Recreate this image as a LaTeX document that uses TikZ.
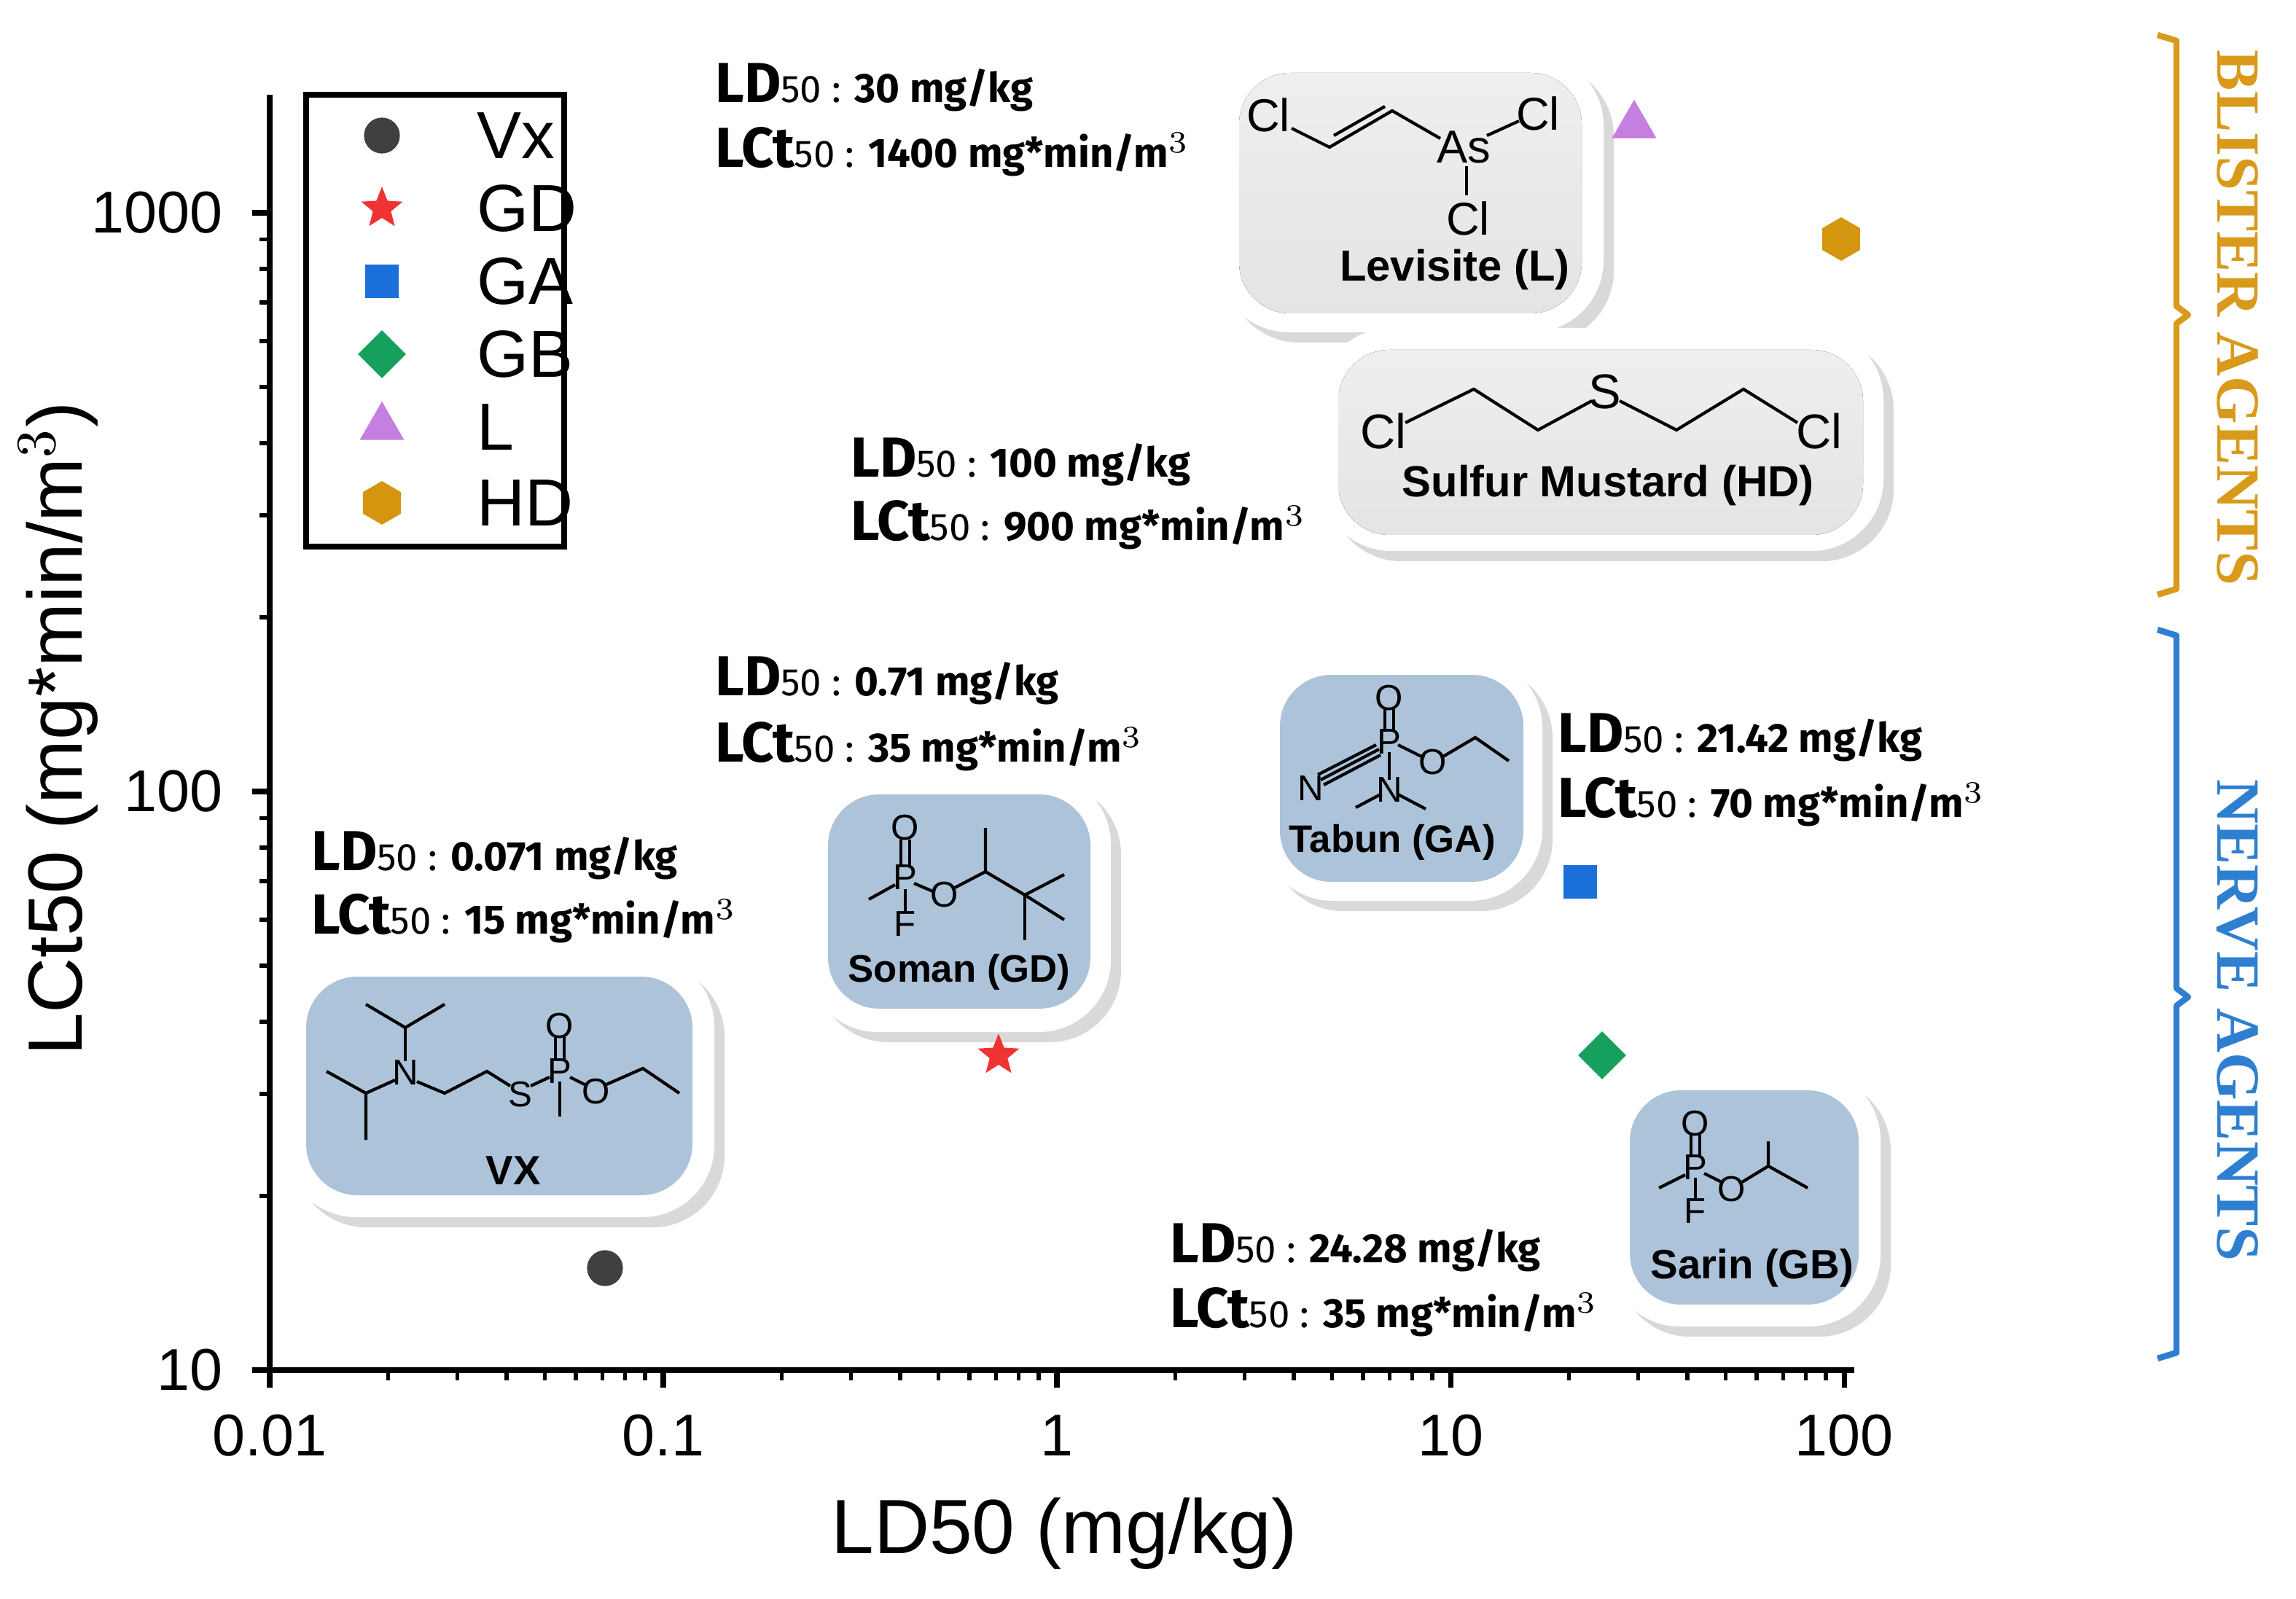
\documentclass[tikz,border=0pt]{standalone}
\usepackage{fontspec}
\setmainfont{Liberation Sans}
\newfontfamily\statf{Fira Sans}
\newfontfamily\brf{Liberation Serif}
\usetikzlibrary{shapes.geometric,shadows}
\definecolor{cVx}{HTML}{404040}
\definecolor{cGD}{HTML}{EE3333}
\definecolor{cGA}{HTML}{1A6FD8}
\definecolor{cGB}{HTML}{17A05D}
\definecolor{cL}{HTML}{C47FE0}
\definecolor{cHD}{HTML}{D4950F}
\definecolor{blist}{HTML}{D99A1C}
\definecolor{nerve}{HTML}{2F7FD0}
\definecolor{panelB}{HTML}{ADC3DA}
\definecolor{panelG}{HTML}{E4E4E4}
\tikzset{
 mk/.style={draw=none,inner sep=0pt},
 mVx/.style={mk,circle,fill=cVx,minimum size=7pt},
 mGD/.style={mk,star,star points=5,star point ratio=2.3,fill=cGD,minimum size=8.5pt},
 mGA/.style={mk,rectangle,fill=cGA,minimum size=6.5pt},
 mGB/.style={mk,diamond,fill=cGB,minimum size=9.5pt},
 mL/.style={mk,regular polygon,regular polygon sides=3,fill=cL,minimum size=10pt},
 mHD/.style={mk,regular polygon,regular polygon sides=6,fill=cHD,minimum size=8.5pt,rotate=30},
 frame/.style={draw=none,fill=white,rounded corners=14pt,drop shadow={opacity=0.3,shadow xshift=2pt,shadow yshift=-2pt}},
 bond/.style={line width=0.6pt},
 atm/.style={font=\fontsize{7}{7}\selectfont,inner sep=0.5pt,fill=none},
 mlab/.style={font=\fontsize{7.5}{8}\selectfont\bfseries},
 stat/.style={anchor=west,font=\statf\bfseries,inner sep=0},
 tick/.style={font=\fontsize{11.5}{12}\selectfont},
 leg/.style={anchor=west,font=\fontsize{13}{14}\selectfont},
}
\newcommand{\LDl}[1]{{\fontsize{11}{11}\selectfont LD}{\fontsize{7.5}{8}\selectfont\mdseries 50 : }{\fontsize{8}{8}\selectfont #1}}
\newcommand{\LCl}[1]{{\fontsize{11}{11}\selectfont LCt}{\fontsize{7.5}{8}\selectfont\mdseries 50 : }{\fontsize{8}{8}\selectfont #1 mg*min/m$^{3}$}}
\begin{document}
\begin{tikzpicture}[x=0.01cm,y=-0.01cm]
\useasboundingbox (0,0) rectangle (1575,1097);
% axes
\draw[line width=1pt] (185,65) -- (185,940) -- (1272,940);
\foreach \i/\l in {0/0.01,1/0.1,2/1,3/10,4/100}{
  \draw[line width=1pt] ({185+270*\i},940) -- ({185+270*\i},952);
  \node[tick] (xt\i) at ({185+270*\i},985) {\l};}
\foreach \i in {0,...,3}{\foreach \j in {2,...,9}{
  \draw[line width=0.8pt] ({185+270*(\i+log10(\j))},940) -- ({185+270*(\i+log10(\j))},947);}}
\foreach \i/\l in {0/10,1/100,2/1000}{
  \draw[line width=1pt] (185,{940-397*\i}) -- (173,{940-397*\i});
  \node[tick,anchor=east] (yt\i) at (165,{940-397*\i}) {\l};}
\foreach \i in {0,1}{\foreach \j in {2,...,9}{
  \draw[line width=0.8pt] (185,{940-397*(\i+log10(\j))}) -- (178,{940-397*(\i+log10(\j))});}}
\node[font=\fontsize{15}{15}\selectfont] (xlab) at (730,1052) {LD50 (mg/kg)};
\node[font=\fontsize{15}{15}\selectfont,rotate=90] (ylab) at (40,500) {LCt50 (mg*min/m$^{3}$)};
% legend
\draw[line width=1pt] (210,65) rectangle (387,375);
\foreach \s/\t/\y in {mVx/Vx/93,mGD/GD/143,mGA/GA/193,mGB/GB/243,mL/L/293,mHD/HD/345}{
  \node[\s] (leg\t) at (262,\y) {};
  \node[leg] (legt\t) at (315,\y) {\t};}
% frames
\draw[frame] (835,37) rectangle (1100,228);
\fill[top color=panelG!60,bottom color=panelG,rounded corners=10pt] (850,50) rectangle (1085,215);
\draw[frame] (905,225) rectangle (1292,378);
\fill[top color=panelG!60,bottom color=panelG,rounded corners=10pt] (918,240) rectangle (1278,367);
\draw[frame] (865,450) rectangle (1058,618);
\fill[panelB,rounded corners=10pt] (878,463) rectangle (1045,605);
\draw[frame] (553,530) rectangle (762,708);
\fill[panelB,rounded corners=10pt] (568,545) rectangle (748,692);
\draw[frame] (195,655) rectangle (490,835);
\fill[panelB,rounded corners=10pt] (210,670) rectangle (475,820);
\draw[frame] (1103,733) rectangle (1290,910);
\fill[panelB,rounded corners=10pt] (1118,748) rectangle (1275,895);
% Levisite
\node[atm,font=\fontsize{9}{9}\selectfont] (lcl1) at (870,79) {Cl};
\node[atm,font=\fontsize{9}{9}\selectfont] (las) at (1004,101) {As};
\node[atm,font=\fontsize{9}{9}\selectfont] (lcl2) at (1055,78) {Cl};
\node[atm,font=\fontsize{9}{9}\selectfont] (lcl3) at (1007,150) {Cl};
\draw[bond] (886,88) -- (912,101) -- (955,76) -- (988,95);
\draw[bond] (915,93) -- (950,73);
\draw[bond] (1020,93) -- (1042,83);
\draw[bond] (1006,114) -- (1006,134);
\node[mlab,font=\fontsize{8.5}{9}\selectfont\bfseries] (llab) at (998,185) {Levisite (L)};
% HD
\node[atm,font=\fontsize{9.5}{9.5}\selectfont] (hcl1) at (949,296) {Cl};
\node[atm,font=\fontsize{9.5}{9.5}\selectfont] (hs) at (1101,269) {S};
\node[atm,font=\fontsize{9.5}{9.5}\selectfont] (hcl2) at (1248,296) {Cl};
\draw[bond] (964,290) -- (1011,267) -- (1055,295) -- (1092,275);
\draw[bond] (1111,275) -- (1150,295) -- (1196,267) -- (1233,290);
\node[mlab,font=\fontsize{8.5}{9}\selectfont\bfseries] (hlab) at (1103,333) {Sulfur Mustard (HD)};
% Tabun
\node[atm] (tO) at (953,479) {O};
\node[atm] (tP) at (953,509) {P};
\node[atm] (tN1) at (899,541) {N};
\node[atm] (tO2) at (983,523) {O};
\node[atm] (tN2) at (953,542) {N};
\draw[bond] (950,486) -- (950,502); \draw[bond] (956,486) -- (956,502);
\draw[bond] (906,535) -- (946,514); \draw[bond] (908,538.5) -- (947,518); \draw[bond] (904,531.5) -- (944,511);
\draw[bond] (959,511) -- (977,520);
\draw[bond] (990,519) -- (1012,506) -- (1035,522);
\draw[bond] (953,516) -- (953,535);
\draw[bond] (947,545) -- (930,554); \draw[bond] (959,545) -- (978,555);
\node[mlab] (tlab) at (955,578) {Tabun (GA)};
% Soman
\node[atm] (sO) at (621,568) {O};
\node[atm] (sP) at (621,602) {P};
\node[atm] (sF) at (621,634) {F};
\node[atm] (sO2) at (648,614) {O};
\draw[bond] (618,576) -- (618,594); \draw[bond] (624,576) -- (624,594);
\draw[bond] (614,607) -- (596,617);
\draw[bond] (621,610) -- (621,626);
\draw[bond] (627,606) -- (641,612);
\draw[bond] (655,609) -- (676,598) -- (676,568);
\draw[bond] (676,598) -- (703,614) -- (730,600);
\draw[bond] (703,614) -- (730,631); \draw[bond] (703,614) -- (703,645);
\node[mlab] (slab) at (658,667) {Soman (GD)};
% VX
\node[atm] (vN) at (278,736) {N};
\node[atm] (vS) at (357,751) {S};
\node[atm] (vP) at (384,735) {P};
\node[atm] (vO) at (384,704) {O};
\node[atm] (vO2) at (409,749) {O};
\draw[bond] (278,728) -- (278,705); \draw[bond] (251,689) -- (278,705) -- (305,689);
\draw[bond] (271,741) -- (251,750); \draw[bond] (224,735) -- (251,750) -- (251,782);
\draw[bond] (286,742) -- (305,750) -- (334,735) -- (350,745);
\draw[bond] (364,745) -- (377,739);
\draw[bond] (381,711) -- (381,727); \draw[bond] (387,711) -- (387,727);
\draw[bond] (384,742) -- (384,766);
\draw[bond] (391,739) -- (403,745);
\draw[bond] (416,744) -- (441,733) -- (466,750);
\node[mlab,font=\fontsize{8}{8}\selectfont\bfseries] (vlab) at (352,803) {VX};
% Sarin
\node[atm] (gO) at (1163,771) {O};
\node[atm] (gP) at (1163,801) {P};
\node[atm] (gF) at (1163,831) {F};
\node[atm] (gO2) at (1188,816) {O};
\draw[bond] (1160,778) -- (1160,794); \draw[bond] (1166,778) -- (1166,794);
\draw[bond] (1156,806) -- (1138,815);
\draw[bond] (1163,808) -- (1163,824);
\draw[bond] (1169,805) -- (1181,811);
\draw[bond] (1195,811) -- (1213,800) -- (1213,783); \draw[bond] (1213,800) -- (1240,815);
\node[mlab,font=\fontsize{8}{8}\selectfont\bfseries] (glab) at (1202,870) {Sarin (GB)};
% stats
\node[stat] (s1a) at (490,60) {\LDl{30 mg/kg}};
\node[stat] (s1b) at (490,104) {\LCl{1400}};
\node[stat] (s2a) at (583,317) {\LDl{100 mg/kg}};
\node[stat] (s2b) at (583,360) {\LCl{900}};
\node[stat] (s3a) at (490,467) {\LDl{0.71 mg/kg}};
\node[stat] (s3b) at (490,512) {\LCl{35}};
\node[stat] (s4a) at (213,587) {\LDl{0.071 mg/kg}};
\node[stat] (s4b) at (213,630) {\LCl{15}};
\node[stat] (s5a) at (1068,506) {\LDl{21.42 mg/kg}};
\node[stat] (s5b) at (1068,550) {\LCl{70}};
\node[stat] (s6a) at (802,856) {\LDl{24.28 mg/kg}};
\node[stat] (s6b) at (802,900) {\LCl{35}};
% data
\node[mVx] (pVx) at (415,870) {};
\node[mGD] (pGD) at (685,724) {};
\node[mGA] (pGA) at (1084,605) {};
\node[mGB] (pGB) at (1099,724) {};
\node[mL] (pL) at (1121,86) {};
\node[mHD] (pHD) at (1263,164) {};
% brackets
\draw[blist,line width=1.2pt,line join=round] (1480,24) -- (1493,28) -- (1493,210) -- (1501,216) -- (1493,222) -- (1493,404) -- (1480,408);
\draw[nerve,line width=1.2pt,line join=round] (1480,432) -- (1493,436) -- (1493,678) -- (1501,684) -- (1493,690) -- (1493,928) -- (1480,932);
\node[rotate=-90,text=blist,font=\brf\bfseries\fontsize{12}{12}\selectfont] (bl) at (1535,218) {BLISTER AGENTS};
\node[rotate=-90,text=nerve,font=\brf\bfseries\fontsize{12}{12}\selectfont] (nv) at (1535,700) {NERVE AGENTS};
\end{tikzpicture}
\end{document}
